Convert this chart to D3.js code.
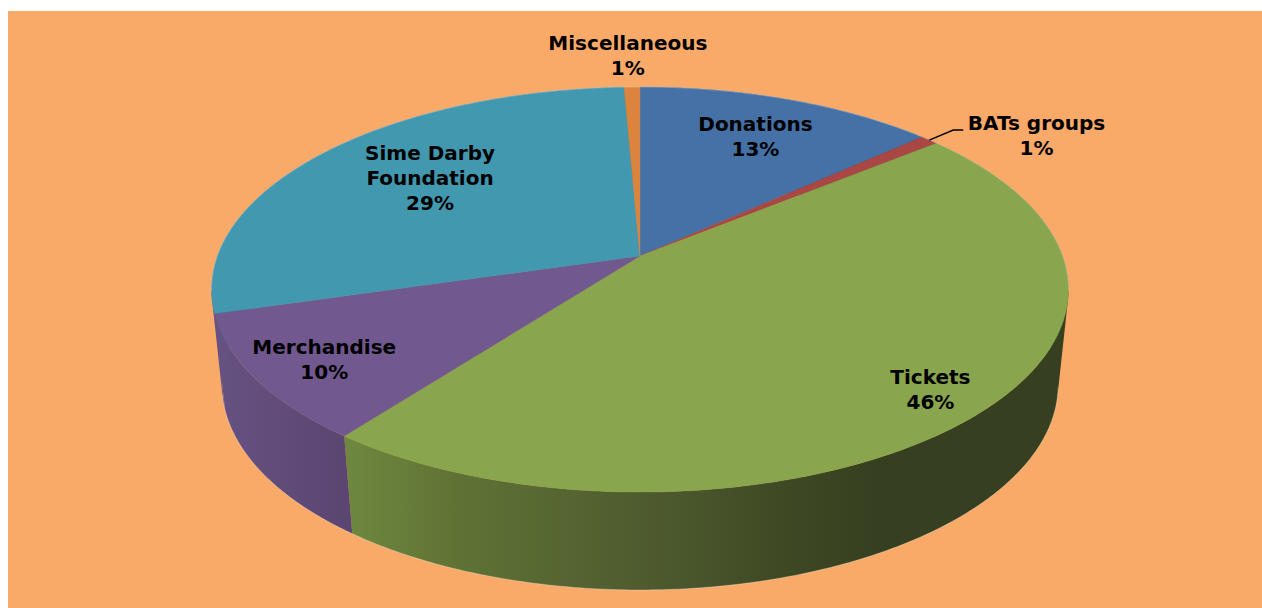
<!DOCTYPE html>
<html>
<head>
<meta charset="utf-8">
<script src="https://cdn.jsdelivr.net/npm/d3@7"></script>
<style>
html, body { margin: 0; padding: 0; background: #fff; overflow: hidden; }
text { font-family: "DejaVu Sans", Verdana, sans-serif; font-weight: bold; font-size: 20px; fill: #000; }
</style>
</head>
<body>
<div id="chart"></div>
<script>
var width = 1262, height = 608;

var categories = ["Donations", "BATs groups", "Tickets", "Merchandise", "Sime Darby|Foundation", "Miscellaneous"];
var shares = [13.3, 0.8, 46.3, 10.1, 28.8, 0.7];
var topColors = ["#4571a6", "#aa4643", "#89a54e", "#71588f", "#4198af", "#db843d"];

// side walls: [offset, colour] stops. Only Tickets and Merchandise show,
// the sliver left of Merchandise reads as purple in the picture too
var wallStops = [
    [[0, "#2f4d72"]],
    [[0, "#762f2e"]],
    [[0, "#6f883e"], [0.215, "#5f7235"], [0.55, "#4f5c2f"], [0.85, "#3d4723"], [1, "#363f20"]],
    [[0, "#665281"], [1, "#5b4672"]],
    [[0, "#665281"]],
    [[0, "#9a5c2a"]]
];

// label placement, as a fraction of the radius along each slice's middle
var labelRadius = [0.728, 1.2, 0.87, 0.842, 0.676, 1.177];
var labelShift = [[3, -1], [56, 16], [-3, 1], [3, 2], [8, -5], [-3, -6]];

var lineHeight = 25;

// perspective of the tilted disc
var tilt = 0.1654, depthW = 0.0242, lowY = 98.2, lowScale = 188.6 / 197;
var x = d3.scaleLinear().domain([-1, 1]).range([640 - 422.6, 640 + 422.6]);
var y = d3.scaleLinear().domain([-1, 1]).range([256 - 197, 256 + 197]);

function project(angle, r, low) {
    var u = r * Math.sin(angle), v = -r * Math.cos(angle);
    var w = 1 - tilt * v + (low ? depthW : 0);
    return low ? [x(u / w), y(lowScale * v / w) + lowY / w] : [x(u / w), y(v / w)];
}

function arcPoints(a0, a1, r, low) {
    var n = Math.max(2, Math.ceil((a1 - a0) / 0.01));
    return d3.range(n + 1).map(function (i) {
        return project(a0 + (a1 - a0) * i / n, r, low);
    });
}

var pie = d3.pie().sort(null).value(function (d) { return d; });
var slices = pie(shares);
var line = d3.line();
var degrees = Math.PI / 180;

var svg = d3.select("#chart").append("svg")
    .attr("width", width)
    .attr("height", height)
    .style("display", "block");

svg.append("rect")
    .attr("x", 8)
    .attr("y", 11)
    .attr("width", width - 8)
    .attr("height", height - 11)
    .attr("fill", "#faaa68");

var defs = svg.append("defs");

// horizontal shading on the side walls
slices.forEach(function (d, i) {
    var pts = arcPoints(d.startAngle, d.endAngle, 1, false);
    var ext = d3.extent(pts, function (p) { return p[0]; });
    // the Tickets shade has gone fully dark well before the right edge
    if (i == 2) ext = [ext[0], 880];
    var g = defs.append("linearGradient")
        .attr("id", "wall" + i)
        .attr("gradientUnits", "userSpaceOnUse")
        .attr("x1", ext[0])
        .attr("x2", ext[1])
        .attr("y1", 0)
        .attr("y2", 0);
    wallStops[i].forEach(function (s) {
        g.append("stop")
            .attr("offset", s[0])
            .attr("stop-color", s[1]);
    });
});

// wall as a run of quads, all wound the same way so the fold fills solid
function wallPath(d) {
    var top = arcPoints(d.startAngle, d.endAngle, 1, false);
    var low = arcPoints(d.startAngle, d.endAngle, 1, true);
    return d3.range(top.length - 1).map(function (i) {
        var quad = [top[i], top[i + 1], low[i + 1], low[i]];
        if (d3.polygonArea(quad) < 0) quad.reverse();
        return line(quad) + "Z";
    }).join("");
}

// walls first, the top faces cover whatever faces away
svg.append("g").selectAll("path")
    .data(slices)
    .enter()
    .append("path")
    .attr("fill", function (d, i) { return "url(#wall" + i + ")"; })
    .attr("d", wallPath);

svg.append("g").selectAll("path")
    .data(slices)
    .enter()
    .append("path")
    .attr("fill", function (d, i) { return topColors[i]; })
    .attr("stroke", function (d, i) { return topColors[i]; })
    .attr("stroke-width", 0.4)
    .attr("d", function (d) {
        return line([project(0, 0, false)].concat(arcPoints(d.startAngle, d.endAngle, 1, false))) + "Z";
    });

// thin light fringe along the outline: back of the disc, bottom of the wall
var fringe = [
    arcPoints(-100 * degrees, 100 * degrees, 1, false),
    arcPoints(100 * degrees, 258 * degrees, 1, true)
];
svg.append("g").selectAll("path")
    .data(fringe)
    .enter()
    .append("path")
    .attr("fill", "none")
    .attr("stroke", "#ffffff")
    .attr("stroke-opacity", 0.4)
    .attr("stroke-width", 0.7)
    .attr("d", line);

var total = d3.sum(shares);

var labels = svg.append("g").selectAll("text")
    .data(slices)
    .enter()
    .append("text")
    .attr("text-anchor", "middle")
    .attr("transform", function (d, i) {
        var p = project((d.startAngle + d.endAngle) / 2, labelRadius[i], false);
        return "translate(" + (p[0] + labelShift[i][0]) + "," + (p[1] + labelShift[i][1]) + ")";
    });

labels.each(function (d, i) {
    var rows = categories[i].split("|").concat(Math.round(d.value / total * 100) + "%");
    d3.select(this).selectAll("tspan")
        .data(rows)
        .enter()
        .append("tspan")
        .attr("x", 0)
        .attr("y", function (r, j) { return (j - (rows.length - 1) / 2) * lineHeight + 7; })
        .text(function (r) { return r; });
});

// leader for the small BATs slice
var bats = slices[1];
var rim = project((bats.startAngle + bats.endAngle) / 2, 1, false);
svg.append("path")
    .attr("fill", "none")
    .attr("stroke", "#000")
    .attr("stroke-width", 1.5)
    .attr("d", line([rim, [rim[0] + 24, rim[1] - 10], [rim[0] + 34, rim[1] - 10]]));
</script>
</body>
</html>
